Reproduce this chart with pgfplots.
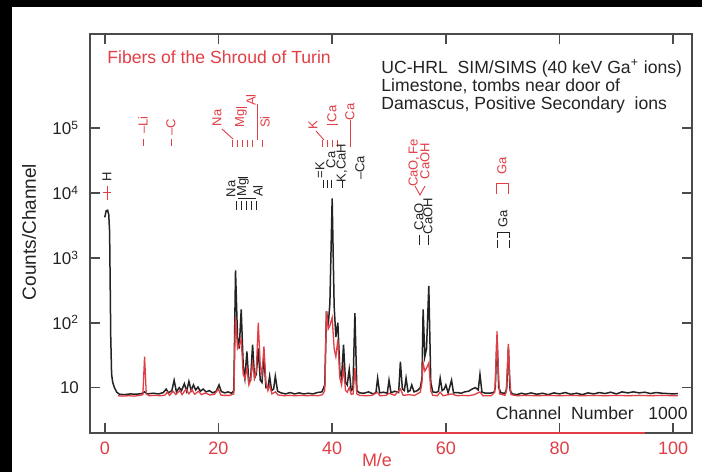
\documentclass[border=0pt]{standalone}
\usepackage{fontspec}
\setmainfont{Liberation Sans}
\usepackage{pgfplots}
\pgfplotsset{compat=1.18}
\definecolor{pred}{RGB}{226,62,70}
\definecolor{pblk}{RGB}{35,35,35}
\definecolor{paxis}{RGB}{75,75,75}
\newcommand{\af}{\fontsize{6.5}{7}\selectfont}
\newcommand{\tf}{\fontsize{8.8}{10}\selectfont}
\begin{document}
\begin{tikzpicture}
\useasboundingbox (0,0) rectangle (351pt,236pt);
\fill[black] (0,0) rectangle (351pt,236pt);
\fill[white] (6pt,0) rectangle (351pt,232.5pt);
\begin{axis}[
  at={(45pt,19.5pt)}, anchor=south west, scale only axis,
  width=301pt, height=199.5pt,
  xmin=-2.6, xmax=103.3,
  ymode=log, ymin=2, ymax=2.8e6,
  axis line style={draw=paxis, line width=0.9pt},
  every tick/.style={draw=paxis, line width=0.8pt},
  major tick length=5pt, tick align=inside,
  xtick pos=both, ytick pos=both,
  xtick={0,20,40,60,80,100},
  xticklabels={0,20,40,60,80,100},
  ytick={10,100,1000,10000,100000},
  yticklabels={10,10\textsuperscript{2},10\textsuperscript{3},10\textsuperscript{4},10\textsuperscript{5}},
  yminorticks=false, xminorticks=false,
  x tick label style={text=pred, font=\fontsize{9}{10}\selectfont, yshift=-1pt},
  y tick label style={text=pblk, font=\fontsize{8.5}{10}\selectfont, xshift=-2pt},
  clip=true,
]
\addplot[pblk, line width=0.75pt] coordinates {
(0,4200) (0.25,5300) (0.5,5400) (0.7,4600) (0.85,2500) (0.95,400) (1.05,60) (1.2,16) (1.4,12) (1.7,10)
(2.1,8.5) (2.6,7.9) (3.5,7.8) (4.5,8) (5.5,7.9) (6.5,8.1) (7,8.6) (7.5,8) (8.5,8.2) (9.5,8)
(10.3,8.4) (10.8,9.5) (11.2,8.3) (11.8,9) (12.2,13) (12.6,8.6) (13.1,10) (13.5,9) (14,11.5) (14.4,8.8)
(14.8,12.5) (15.2,9) (15.6,11) (16,9.2) (16.4,10.2) (16.8,8.8) (17.3,9.5) (17.8,8.6) (18.4,9) (19,8.3)
(19.6,8.8) (20.1,11) (20.5,8.7) (21.1,8.3) (21.7,8.6) (22.3,8.2) (22.7,9)
(23,640) (23.35,60) (23.65,40) (24,160) (24.35,22) (24.65,14) (25,36) (25.35,12) (25.65,13) (26,46)
(26.35,14) (26.65,16) (27,40) (27.35,13) (27.65,12) (28,30) (28.35,10) (28.7,10) (29,15) (29.35,9)
(29.7,9.5) (30,15) (30.4,8.8) (31,8.3) (31.8,8) (32.6,8.4) (33.4,8) (34.2,8.3) (35,8) (35.8,8.2)
(36.6,8) (37.4,8.4) (38.2,8.6) (38.7,11) (39,150) (39.3,90) (39.6,200) (40,8200) (40.35,180) (40.65,60)
(41,100) (41.35,18) (41.65,14) (42,46) (42.35,12) (42.65,11) (43,19) (43.35,9) (43.65,9.5) (44,140)
(44.35,9) (44.8,8.3) (45.6,8.2) (46.4,8.6) (47.2,8) (47.7,8.4) (48,14) (48.35,8.3) (49,8.5) (49.7,8.2)
(50,13) (50.35,8.3) (51,8.8) (51.7,8.4) (52,25) (52.35,9.5) (52.7,9) (53,14) (53.35,8.6) (53.7,9)
(54,11) (54.4,8.6) (55,9) (55.5,10) (55.8,14) (56,160) (56.3,30) (56.6,40) (57,370) (57.35,12)
(57.7,8.6) (58.3,8.4) (58.7,8.8) (59,14) (59.35,9) (59.7,9.5) (60,11) (60.4,8.3) (61,13) (61.35,8.3)
(62,8.4) (62.7,8.2) (63.3,8.6) (64,8.8) (64.6,9.5) (65.2,10) (65.7,9.2) (66,16) (66.35,8.5) (67,8.2)
(67.8,8.2) (68.5,8.5) (68.7,10) (69,62) (69.3,10) (69.7,8.3) (70.4,8.2) (70.7,9.5) (71,42) (71.3,9)
(71.7,8) (72.5,7.8) (73.3,8.2) (74,7.9) (75,8.3) (76,7.9) (77,8.2) (78,7.8) (79,8.3) (80,8)
(81,8.4) (82,7.9) (83,8.2) (84,7.8) (85,8.3) (86,8) (87,8.4) (88,8.1) (89,8.5) (90,8)
(91,8.6) (92,8.3) (93,8.6) (94,8.3) (95,8.5) (96,8.1) (97,8.4) (98,8.2) (99,8.1) (100,8) (100.8,8.1)
};
\addplot[pred, line width=0.65pt] coordinates {
(2.3,7.5) (3.2,7.4) (4.2,7.5) (5.2,7.4) (6.2,7.6) (6.7,7.8) (7,30) (7.3,8) (7.8,7.5) (8.8,7.6)
(9.8,7.5) (10.6,7.7) (11,8.5) (11.4,7.6) (12,8.8) (12.5,7.8) (13.2,9) (13.6,7.8) (14.3,9.5) (14.8,8)
(15.3,9.4) (15.8,7.9) (16.5,8.8) (17,7.8) (17.7,8.3) (18.5,7.7) (19.3,7.9) (20,9.5) (20.4,7.7) (21,7.6)
(22,7.6) (22.7,8) (23,125) (23.35,40) (23.65,45) (24,55) (24.35,16) (24.65,14) (25,20) (25.35,11)
(25.65,13) (26,24) (26.35,14) (26.65,18) (27,100) (27.35,22) (27.65,16) (28,43) (28.35,12) (28.7,9)
(29,11) (29.4,8) (30,8.6) (30.5,7.7) (31.5,7.5) (32.5,7.6) (33.5,7.5) (34.5,7.6) (35.5,7.5) (36.5,7.6)
(37.5,7.5) (38.3,7.8) (38.7,9) (39,150) (39.3,80) (39.6,90) (40,120) (40.35,40) (40.65,30) (41,55)
(41.35,14) (41.65,11) (42,20) (42.35,9) (42.65,8.5) (43,10) (43.35,7.9) (43.7,8) (44,20) (44.35,8)
(44.8,7.6) (46,7.5) (47,7.6) (48,8.5) (48.4,7.5) (49.5,7.6) (50,8.2) (51,7.6) (52,9.5) (52.5,7.6)
(53.5,7.8) (54.5,7.6) (55.5,8.5) (55.8,12) (56,24) (56.3,18) (56.6,20) (57,24) (57.35,9) (57.7,7.6)
(58.5,7.5) (59,8.5) (59.5,7.5) (61,8) (62,7.5) (63,7.6) (64,7.5) (65,7.8) (66,8.6) (66.5,7.5)
(68,7.5) (68.6,8.5) (68.8,20) (69,74) (69.2,20) (69.45,8) (70.4,7.6) (70.6,8.5) (70.8,18) (71,47)
(71.2,16) (71.45,7.8) (72.5,7.5) (74,7.6) (76,7.5) (78,7.6) (80,7.5) (82,7.6) (84,7.5) (86,7.6)
(88,7.5) (90,7.6) (92,7.5) (94,7.6) (96,7.5) (98,7.6) (100,7.5) (100.8,7.5)
};
\draw[pred, line width=0.8pt] (axis cs:52,2) -- (axis cs:95,2);
\end{axis}
\begin{scope}[shift={(0pt,236pt)}, x=0.5pt, y=-0.5pt]
% main texts
\node[pred, anchor=base west, font=\tf, inner sep=0] at (107,64) {Fibers of the Shroud of Turin};
\node[pblk, anchor=base west, font=\tf, inner sep=0] at (381,74) {UC-HRL\ \ SIM/SIMS (40 keV Ga\textsuperscript{+} ions)};
\node[pblk, anchor=base west, font=\tf, inner sep=0] at (381,92) {Limestone, tombs near door of};
\node[pblk, anchor=base west, font=\tf, inner sep=0] at (381,110) {Damascus, Positive Secondary\ \ ions};
\node[pblk, anchor=base east, font=\tf, inner sep=0] at (688,419) {Channel\ \ Number\ \ \ 1000};
\node[pred, font=\fontsize{9}{10}\selectfont] at (377,460) {M/e};
\node[pblk, rotate=90, font=\fontsize{9.5}{10}\selectfont] at (29,232) {Counts/Channel};
% H label
\node[pblk, rotate=90, font=\af, inner sep=0.5pt] at (107,177) {H};
\draw[pred, line width=0.5pt] (107,186) -- (107,200);
\draw[pred, line width=0.5pt] (103,193) -- (111,193);
% red peak labels
\begin{scope}[pred, line width=0.45pt]
\node[rotate=90, font=\af] at (143,125) {\textendash Li};
\draw (143,139) -- (143,146);
\node[rotate=90, font=\af] at (171,127) {\textendash C};
\draw (171,139) -- (171,146);
\node[rotate=90, font=\af] at (217,118) {Na};
\draw (222,129) -- (233,139);
\node[rotate=90, font=\af] at (241,118) {Mg};
\draw (236,107) -- (247,107);
\node[rotate=90, font=\af] at (251,100) {Al};
\draw (257,104) -- (257,140);
\node[rotate=90, font=\af] at (265,122) {Si};
\foreach \xx in {232,237,242,247,252,262} {\draw (\xx,140) -- (\xx,147);}
\node[rotate=90, font=\af] at (313,125) {K};
\draw (316,131) -- (324,140);
\node[rotate=90, font=\af] at (332,114) {Ca};
\draw (327,124) -- (338,124);
\node[rotate=90, font=\af] at (350,112) {Ca};
\draw (350,120) -- (350,147);
\foreach \xx in {322,327,332,337} {\draw (\xx,140) -- (\xx,147);}
\node[rotate=90, font=\af] at (414,163) {CaO,\,Fe};
\node[rotate=90, font=\af] at (425,161) {CaOH};
\draw (415,186) -- (420,195) -- (425,186);
\node[rotate=90, font=\af] at (502,166) {Ga};
\draw (496,194) -- (496,183) -- (508,183) -- (508,194);
\end{scope}
% black peak labels
\begin{scope}[pblk, line width=0.45pt]
\node[rotate=90, font=\af] at (231,189) {Na};
\node[rotate=90, font=\af] at (243,187) {Mg};
\draw (238,177) -- (248,177);
\node[rotate=90, font=\af] at (258,191) {Al};
\draw (238,198) -- (256,198);
\foreach \xx in {236,241,246,251,256} {\draw (\xx,201) -- (\xx,210);}
\node[rotate=90, font=\af] at (320,170) {=K};
\node[rotate=90, font=\af] at (331,160) {Ca};
\node[rotate=90, font=\af] at (342,163) {K,CaH};
\node[rotate=90, font=\af] at (360,168) {\textendash Ca};
\foreach \xx in {323,327,331,342} {\draw (\xx,180) -- (\xx,188);}
\node[rotate=90, font=\af] at (419,217) {CaO};
\node[rotate=90, font=\af] at (428,216) {CaOH};
\draw (419,235) -- (419,245);
\draw (428,235) -- (428,245);
\node[rotate=90, font=\af] at (503,219) {Ga};
\draw (497,238) -- (497,232) -- (509,232) -- (509,238);
\draw (497,240) -- (497,248);
\draw (509,240) -- (509,248);
\end{scope}
\end{scope}
\end{tikzpicture}
\end{document}
